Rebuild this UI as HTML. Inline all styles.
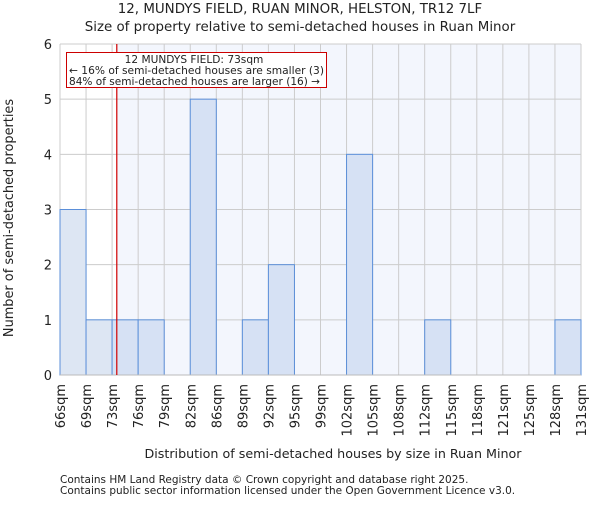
<!DOCTYPE html>
<html><head><meta charset="utf-8"><style>
body{margin:0;background:#fff;}
svg text{font-family:"DejaVu Sans","Liberation Sans",sans-serif;fill:#222;}
</style></head><body>
<svg id="chart" width="600" height="500" xmlns="http://www.w3.org/2000/svg">
<text x="300" y="13" text-anchor="middle" font-size="13.4">12, MUNDYS FIELD, RUAN MINOR, HELSTON, TR12 7LF</text>
<text x="300" y="31" text-anchor="middle" font-size="13.4">Size of property relative to semi-detached houses in Ruan Minor</text>
<g id="plot"></g>
<text x="333" y="458" text-anchor="middle" font-size="12.7">Distribution of semi-detached houses by size in Ruan Minor</text>
<text transform="translate(13,218) rotate(-90)" text-anchor="middle" font-size="12.9">Number of semi-detached properties</text>
<text x="60" y="483" font-size="10.5" fill="#444">Contains HM Land Registry data © Crown copyright and database right 2025.</text>
<text x="60" y="494" font-size="10.5" fill="#444">Contains public sector information licensed under the Open Government Licence v3.0.</text>
</svg>
<script>
const labels=["66sqm","69sqm","73sqm","76sqm","79sqm","82sqm","86sqm","89sqm","92sqm","95sqm","99sqm","102sqm","105sqm","108sqm","112sqm","115sqm","118sqm","121sqm","125sqm","128sqm","131sqm"];
const counts=[3,1,1,1,0,5,0,1,2,0,0,4,0,0,1,0,0,0,0,1];
const yTicks=[0,1,2,3,4,5,6];
const markerPos=2.18;
const NS="http://www.w3.org/2000/svg";
const g=document.getElementById('plot');
const L=60,R=581,T=44,B=375,yMax=6;
const bw=(R-L)/counts.length;
const xs=i=>L+i*bw;
const ys=v=>B-(B-T)*v/yMax;
function mk(t,a){const e=document.createElementNS(NS,t);for(const k in a)e.setAttribute(k,a[k]);g.appendChild(e);return e;}
const mx=xs(markerPos);
let e=mk('rect',{x:L,y:T,width:mx-L,height:B-T,fill:'#ffffff'});


e=mk('rect',{x:mx,y:T,width:R-mx,height:B-T,fill:'#f3f6fd'});


for(let i=0;i<=counts.length;i++){e=mk('line',{x1:xs(i),x2:xs(i),y1:T,y2:B,stroke:'#cccccc','stroke-width':1});

}
yTicks.forEach(v=>{e=mk('line',{x1:L,x2:R,y1:ys(v),y2:ys(v),stroke:'#cccccc','stroke-width':1});


const t=mk('text',{x:L-8,y:ys(v)+5,'text-anchor':'end','font-size':13});t.textContent=v;

});
counts.forEach((c,i)=>{if(!c)return;
const left=xs(i+1)<=mx;
e=mk('rect',{x:xs(i),y:ys(c),width:bw,height:B-ys(c),fill:left?'#dde6f3':'#d6e1f4',stroke:'#5b8fd9','stroke-width':1});

});
labels.forEach((l,i)=>{const x=xs(i);
const t=mk('text',{transform:`translate(${x+5},384) rotate(-90)`,'text-anchor':'end','font-size':13});t.textContent=l;

});
e=mk('line',{x1:L,x2:R,y1:B,y2:B,stroke:'#bbbbbb','stroke-width':1});


e=mk('line',{x1:mx,x2:mx,y1:T,y2:B,stroke:'#d00000','stroke-width':1.2});


e=mk('rect',{x:66.5,y:52.5,width:260,height:35,fill:'#fff',stroke:'#cc0000','stroke-width':1});


const lines=["12 MUNDYS FIELD: 73sqm","← 16% of semi-detached houses are smaller (3)","84% of semi-detached houses are larger (16) →"];
lines.forEach((s,k)=>{const t=mk('text',{x:k==0?194:69,y:63+k*11,'text-anchor':k==0?'middle':'start','font-size':10.6,'textLength':k==0?undefined:'','lengthAdjust':'spacingAndGlyphs'});t.textContent=s;
if(k>0){t.setAttribute('textLength',k==1?255:251);}else{t.removeAttribute('textLength');}

});
</script>
</body></html>
